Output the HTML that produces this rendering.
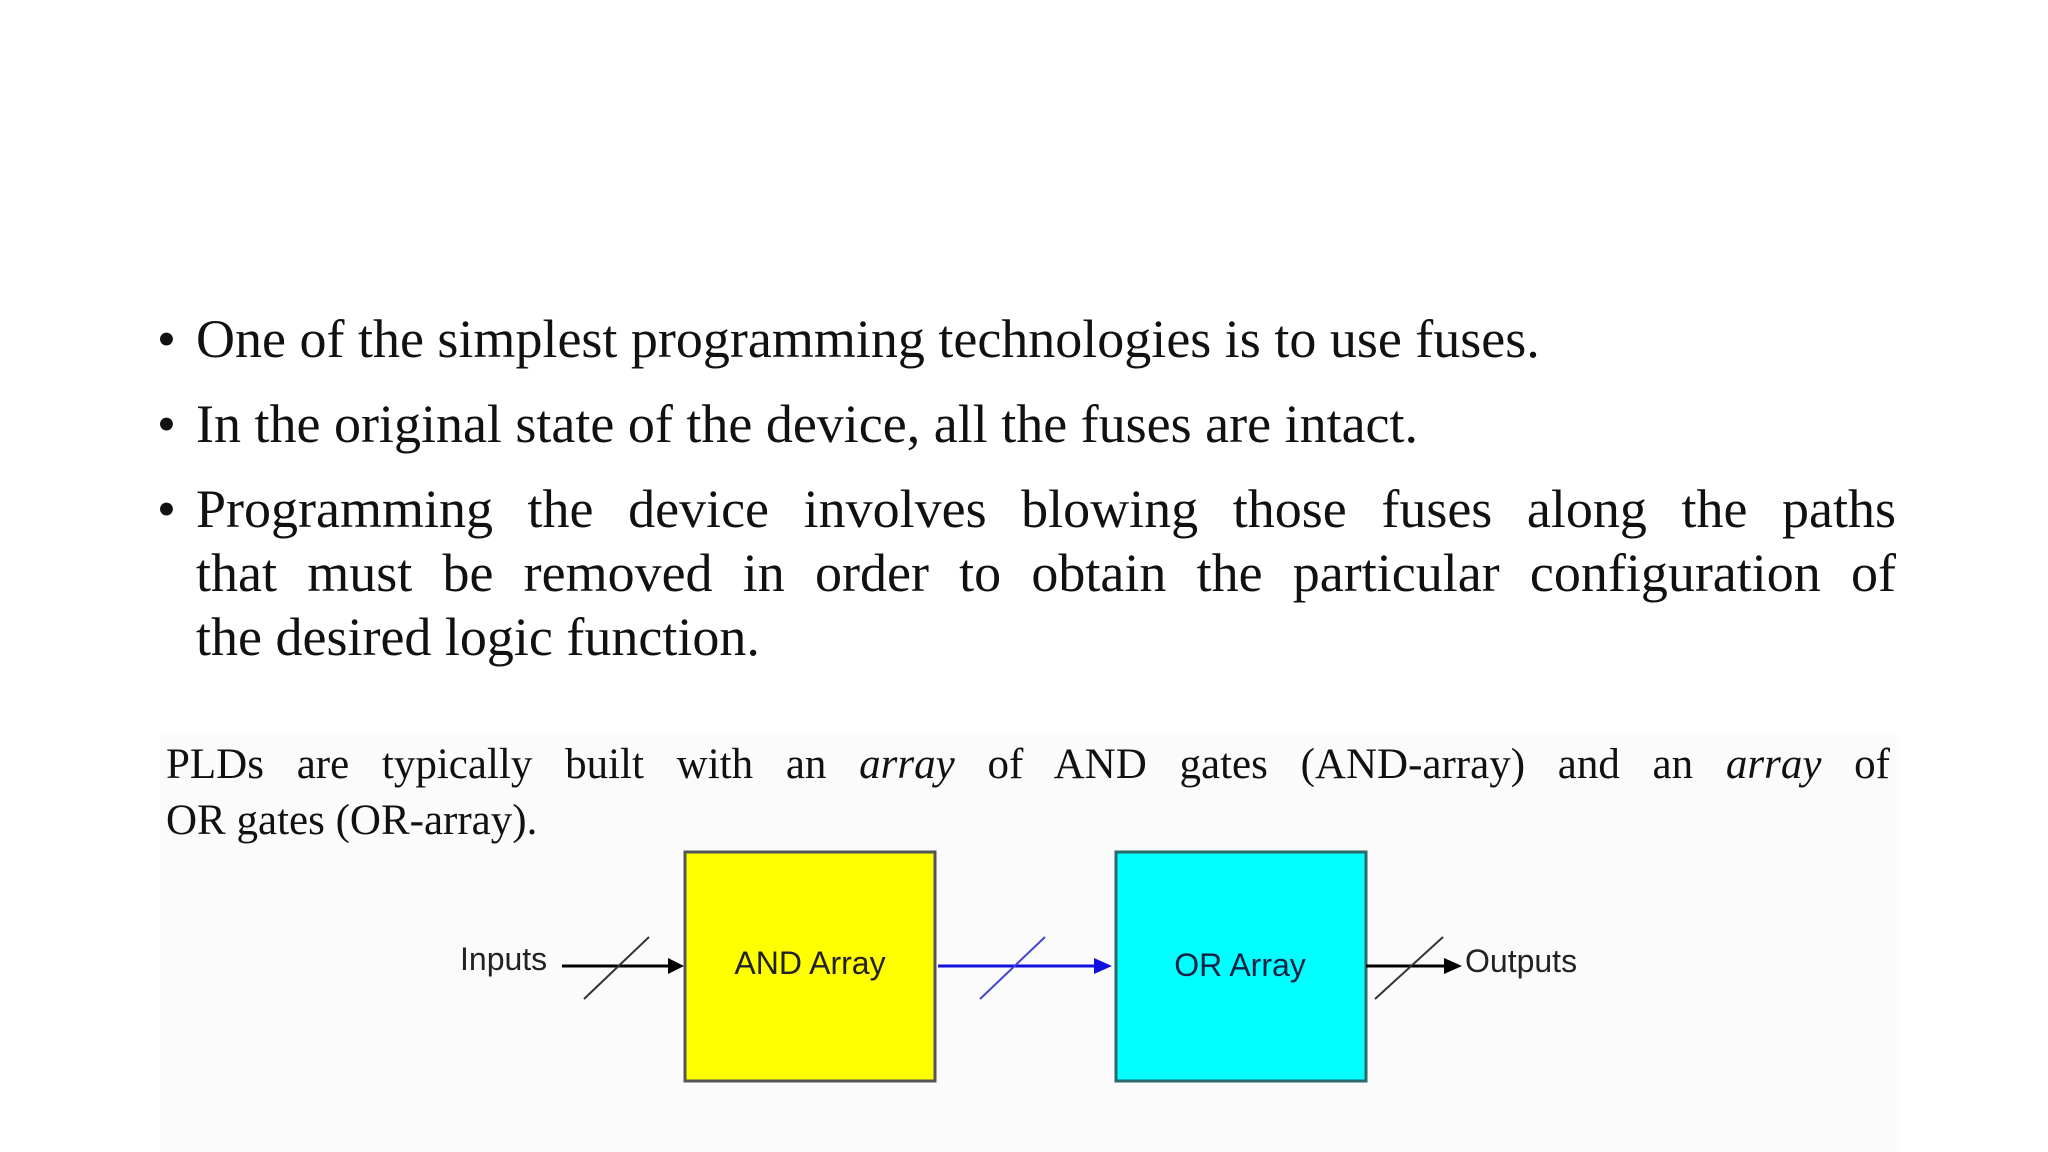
<!DOCTYPE html>
<html><head><meta charset="utf-8"><style>
html,body{margin:0;padding:0;background:#fff;}
body{width:2048px;height:1152px;position:relative;overflow:hidden;}
.b{position:absolute;font-family:"Liberation Serif",serif;font-size:54px;color:#111;white-space:nowrap;}
.p{position:absolute;font-family:"Liberation Serif",serif;font-size:43px;color:#111;white-space:nowrap;}
</style></head><body>
<div style="position:absolute;left:160px;top:735px;width:1740px;height:417px;background:#fbfbfb"></div>
<div class="b" style="left:157px;top:308px">•</div>
<div class="b" style="left:196px;top:308px">One of the simplest programming technologies is to use fuses.</div>
<div class="b" style="left:157px;top:393px">•</div>
<div class="b" style="left:196px;top:393px">In the original state of the device, all the fuses are intact.</div>
<div class="b" style="left:157px;top:478px">•</div>
<div class="b" style="left:196px;top:478px;width:1700px;text-align:justify;text-align-last:justify">Programming the device involves blowing those fuses along the paths</div>
<div class="b" style="left:196px;top:542px;width:1700px;text-align:justify;text-align-last:justify">that must be removed in order to obtain the particular configuration of</div>
<div class="b" style="left:196px;top:606px">the desired logic function.</div>
<div class="p" style="left:166px;top:740px;width:1724px;text-align:justify;text-align-last:justify">PLDs are typically built with an <i>array</i> of AND gates (AND-array) and an <i>array</i> of</div>
<div class="p" style="left:166px;top:796px">OR gates (OR-array).</div>
<svg width="2048" height="1152" style="position:absolute;left:0;top:0">
<defs>
<marker id="ak" markerWidth="10" markerHeight="10" refX="9" refY="5" orient="auto" markerUnits="userSpaceOnUse"><path d="M0,0 L10,5 L0,10 z" fill="#000"/></marker>
</defs>
<rect x="685" y="852" width="250" height="229" fill="#ffff00" stroke="#555" stroke-width="3"/>
<rect x="1116" y="852" width="250" height="229" fill="#00ffff" stroke="#2a6a6a" stroke-width="3"/>
<line x1="562" y1="966" x2="670" y2="966" stroke="#000" stroke-width="3"/>
<path d="M668,958 L684,966 L668,974 z" fill="#000"/>
<line x1="584" y1="999" x2="649" y2="937" stroke="#333" stroke-width="2"/>
<line x1="938" y1="966" x2="1096" y2="966" stroke="#1010e0" stroke-width="3"/>
<path d="M1094,958 L1112,966 L1094,974 z" fill="#1010e0"/>
<line x1="980" y1="999" x2="1045" y2="937" stroke="#4444cc" stroke-width="2"/>
<line x1="1366" y1="966" x2="1446" y2="966" stroke="#000" stroke-width="3"/>
<path d="M1444,958 L1462,966 L1444,974 z" fill="#000"/>
<line x1="1375" y1="999" x2="1443" y2="937" stroke="#333" stroke-width="2"/>
<g font-family="Liberation Sans, sans-serif" font-size="32" fill="#222">
<text x="460" y="970">Inputs</text>
<text x="810" y="974" text-anchor="middle">AND Array</text>
<text x="1240" y="976" text-anchor="middle" fill="#124">OR Array</text>
<text x="1465" y="972">Outputs</text>
</g>
</svg>
</body></html>
